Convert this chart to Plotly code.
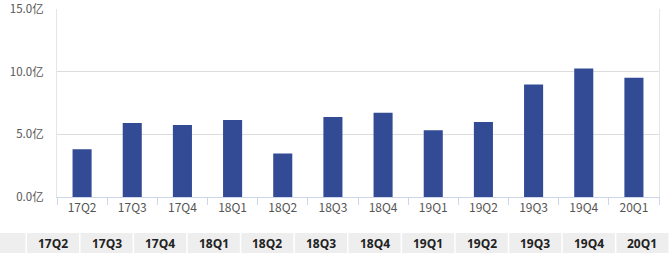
import plotly.graph_objects as go

categories = ["17Q2", "17Q3", "17Q4", "18Q1", "18Q2", "18Q3", "18Q4",
              "19Q1", "19Q2", "19Q3", "19Q4", "20Q1"]
values = [3.81, 5.90, 5.74, 6.14, 3.47, 6.37, 6.72, 5.32, 5.98, 8.97, 10.24, 9.50]
y_ticks = [0, 5, 10, 15]
y_tick_labels = ["0.0亿", "5.0亿", "10.0亿", "15.0亿"]

W, H = 670, 254
PL, PR, PT, PB = 57, 659, 8.5, 197

fig = go.Figure()
fig.add_trace(go.Bar(
    x=categories, y=values, width=0.38,
    marker=dict(color="#334a94", line=dict(width=0)),
    hoverinfo="x+y", showlegend=False,
))

# bottom table row (band of category labels)
first_w = 27
col_w = (W - first_w) / len(categories)
tab_top, tab_bot = 233, 253
shapes = []
annotations = []
edges = [0, first_w] + [first_w + col_w * (i + 1) for i in range(len(categories))]
labels = [""] + categories
for i, lab in enumerate(labels):
    x0 = edges[i]
    x1 = edges[i + 1] - 1.5
    shapes.append(dict(type="rect", xref="paper", yref="paper",
                       x0=x0 / W, x1=x1 / W,
                       y0=(H - tab_bot) / H, y1=(H - tab_top) / H,
                       fillcolor="#eeeeee", line=dict(width=0), layer="below"))
    if lab:
        annotations.append(dict(xref="paper", yref="paper",
                                x=(x0 + x1) / 2 / W, y=(H - (tab_top + tab_bot) / 2) / H,
                                text="<b>%s</b>" % lab, showarrow=False,
                                xanchor="center", yanchor="middle",
                                font=dict(family="Open Sans, Noto Sans CJK SC", size=12,
                                          color="#222222")))

fig.update_layout(
    width=W, height=H,
    margin=dict(l=0, r=0, t=0, b=0, autoexpand=False),
    paper_bgcolor="white", plot_bgcolor="white",
    shapes=shapes, annotations=annotations,
    font=dict(family="Noto Sans CJK SC, Microsoft YaHei, sans-serif", size=12, color="#555555"),
    xaxis=dict(
        domain=[PL / W, PR / W],
        type="category",
        showgrid=False,
        showline=True, linecolor="#ccd6eb", linewidth=1,
        ticks="outside", tickson="boundaries", ticklen=7, tickcolor="#ccd6eb",
        tickfont=dict(size=12, color="#555555"),
        automargin=False,
        fixedrange=True,
    ),
    yaxis=dict(
        domain=[(H - PB) / H, (H - PT) / H],
        range=[0, 15.02],
        tickvals=y_ticks, ticktext=y_tick_labels,
        showgrid=True, gridcolor="#dcdcdc", gridwidth=1,
        zeroline=False,
        showline=True, linecolor="#e6e6e6", mirror=True,
        ticks="", ticklabelstandoff=10, ticklabeloverflow="allow",
        tickfont=dict(size=11.5, color="#555555"),
        automargin=False,
        fixedrange=True,
    ),
)

fig.write_html("out.html")
